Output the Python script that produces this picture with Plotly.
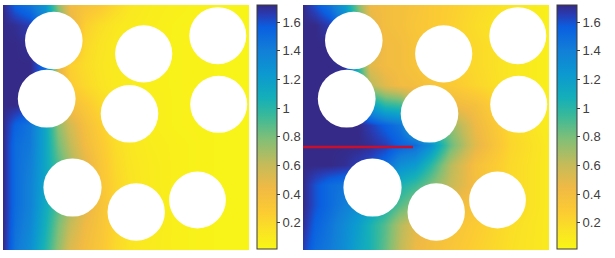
import plotly.graph_objects as go

# grid coordinates (pixel-like data units inside each square panel)
x_cols = [3, 15, 30, 45, 58, 70, 85, 100, 115, 130, 150, 175, 210, 249]
y_rows = [5, 25, 45, 65, 85, 105, 125, 145, 165, 185, 205, 225, 250]

# left panel field values
left_z = [
    [1.72, 1.55, 1.45, 1.25, 0.75, 0.42, 0.36, 0.30, 0.20, 0.12, 0.08, 0.06, 0.04, 0.03],
    [1.72, 1.70, 1.65, 1.40, 0.90, 0.50, 0.25, 0.17, 0.12, 0.09, 0.07, 0.05, 0.04, 0.03],
    [1.72, 1.72, 1.70, 1.50, 1.00, 0.45, 0.20, 0.14, 0.10, 0.08, 0.06, 0.05, 0.04, 0.03],
    [1.72, 1.72, 1.72, 1.50, 0.50, 0.25, 0.18, 0.13, 0.10, 0.08, 0.06, 0.05, 0.04, 0.03],
    [1.72, 1.72, 1.72, 1.50, 0.60, 0.28, 0.20, 0.14, 0.10, 0.08, 0.06, 0.05, 0.04, 0.03],
    [1.72, 1.72, 1.65, 1.30, 0.70, 0.40, 0.30, 0.20, 0.13, 0.09, 0.07, 0.05, 0.04, 0.03],
    [1.72, 1.55, 1.45, 1.15, 0.75, 0.55, 0.38, 0.26, 0.15, 0.10, 0.07, 0.05, 0.04, 0.03],
    [1.72, 1.50, 1.43, 1.15, 0.82, 0.62, 0.42, 0.30, 0.18, 0.12, 0.08, 0.06, 0.04, 0.03],
    [1.72, 1.50, 1.40, 1.15, 0.90, 0.70, 0.50, 0.33, 0.20, 0.13, 0.09, 0.06, 0.04, 0.03],
    [1.72, 1.50, 1.38, 1.15, 0.90, 0.70, 0.50, 0.34, 0.22, 0.14, 0.09, 0.06, 0.04, 0.03],
    [1.72, 1.50, 1.38, 1.12, 0.88, 0.70, 0.50, 0.36, 0.23, 0.15, 0.10, 0.06, 0.04, 0.03],
    [1.72, 1.48, 1.35, 1.08, 0.80, 0.60, 0.44, 0.34, 0.22, 0.14, 0.10, 0.06, 0.04, 0.03],
    [1.72, 1.45, 1.30, 1.02, 0.74, 0.52, 0.40, 0.32, 0.20, 0.13, 0.09, 0.06, 0.04, 0.03],
]

# right panel field values (with crack)
right_z = [
    [1.72, 1.60, 1.45, 1.20, 0.78, 0.45, 0.40, 0.38, 0.35, 0.30, 0.26, 0.20, 0.12, 0.06],
    [1.72, 1.72, 1.65, 1.40, 0.90, 0.50, 0.40, 0.38, 0.33, 0.30, 0.25, 0.18, 0.10, 0.06],
    [1.72, 1.72, 1.72, 1.50, 1.00, 0.55, 0.42, 0.40, 0.35, 0.30, 0.25, 0.20, 0.12, 0.06],
    [1.72, 1.72, 1.72, 1.70, 1.00, 0.50, 0.42, 0.40, 0.35, 0.30, 0.25, 0.20, 0.12, 0.06],
    [1.72, 1.72, 1.72, 1.65, 1.10, 0.65, 0.50, 0.42, 0.40, 0.35, 0.30, 0.22, 0.12, 0.06],
    [1.72, 1.72, 1.72, 1.70, 1.50, 1.20, 1.00, 0.95, 0.60, 0.45, 0.45, 0.38, 0.15, 0.07],
    [1.72, 1.72, 1.72, 1.72, 1.72, 1.65, 1.55, 1.45, 1.10, 0.85, 0.75, 0.45, 0.20, 0.08],
    [1.72, 1.72, 1.72, 1.72, 1.72, 1.70, 1.65, 1.55, 1.50, 1.30, 0.85, 0.50, 0.22, 0.10],
    [1.72, 1.72, 1.72, 1.70, 1.65, 1.60, 1.50, 1.30, 1.22, 1.00, 0.65, 0.38, 0.20, 0.10],
    [1.72, 1.60, 1.50, 1.45, 1.40, 1.30, 1.20, 1.05, 0.95, 0.80, 0.60, 0.40, 0.20, 0.10],
    [1.72, 1.60, 1.50, 1.40, 1.30, 1.20, 1.05, 0.88, 0.75, 0.60, 0.45, 0.35, 0.20, 0.10],
    [1.70, 1.55, 1.45, 1.32, 1.20, 1.05, 0.88, 0.65, 0.50, 0.42, 0.36, 0.28, 0.17, 0.10],
    [1.65, 1.50, 1.42, 1.30, 1.15, 1.05, 0.85, 0.62, 0.45, 0.40, 0.33, 0.25, 0.16, 0.10],
]

# holes (same layout in both panels)
hole_x = [53.8, 143.7, 217.8, 46.7, 129.5, 218.7, 72.5, 136.2, 197.5]
hole_y = [40.5, 53.8, 35.7, 98.7, 113.8, 104.3, 187.5, 212.0, 200.0]
hole_r = [28.8, 28.6, 28.5, 28.9, 28.8, 28.5, 29.1, 28.7, 28.4]

# crack in right panel
crack_x = [3, 113]
crack_y = [147, 147]

cbar_ticks = [0.2, 0.4, 0.6, 0.8, 1.0, 1.2, 1.4, 1.6]
cbar_labels = ["0.2", "0.4", "0.6", "0.8", "1", "1.2", "1.4", "1.6"]
zmin, zmax = 0.016, 1.72

# reversed parula-like colour scale (low = yellow, high = navy)
parula_rev = [
    [0.00, "rgb(248,246,22)"],
    [0.07, "rgb(250,228,35)"],
    [0.15, "rgb(252,204,50)"],
    [0.25, "rgb(240,186,68)"],
    [0.35, "rgb(195,187,90)"],
    [0.45, "rgb(130,191,118)"],
    [0.55, "rgb(55,185,155)"],
    [0.62, "rgb(20,175,185)"],
    [0.72, "rgb(12,152,208)"],
    [0.82, "rgb(18,125,216)"],
    [0.91, "rgb(10,95,224)"],
    [0.96, "rgb(40,60,180)"],
    [1.00, "rgb(53,42,135)"],
]

W, H = 615, 258
fig = go.Figure()
fig.add_trace(go.Heatmap(x=x_cols, y=y_rows, z=left_z, zsmooth="best",
                         coloraxis="coloraxis", xaxis="x", yaxis="y", hoverinfo="skip"))
fig.add_trace(go.Heatmap(x=x_cols, y=y_rows, z=right_z, zsmooth="best",
                         coloraxis="coloraxis2", xaxis="x2", yaxis="y2", hoverinfo="skip"))
fig.add_trace(go.Scatter(x=crack_x, y=crack_y, mode="lines",
                         line=dict(color="#c8102e", width=2.5),
                         xaxis="x2", yaxis="y2", showlegend=False, hoverinfo="skip"))

shapes = []
for xr, yr in (("x", "y"), ("x2", "y2")):
    for cx, cy, r in zip(hole_x, hole_y, hole_r):
        shapes.append(dict(type="circle", xref=xr, yref=yr,
                           x0=cx - r, x1=cx + r, y0=cy - r, y1=cy + r,
                           fillcolor="white", line=dict(width=0), layer="above"))


def cbar(xpx):
    return dict(x=xpx / W, xanchor="left", xpad=0, ypad=0,
                y=253 / H, yanchor="top", len=244 / H, lenmode="fraction",
                thickness=20, thicknessmode="pixels",
                outlinewidth=1, outlinecolor="#3a3a3a",
                ticks="outside", ticklen=3, tickcolor="#3a3a3a",
                tickvals=cbar_ticks, ticktext=cbar_labels,
                tickfont=dict(family="Liberation Sans, Arial", size=13, color="#404040"))


ax = dict(visible=False, fixedrange=True, showgrid=False, zeroline=False)
fig.update_layout(
    width=W, height=H,
    margin=dict(l=0, r=0, t=0, b=0),
    paper_bgcolor="white", plot_bgcolor="white",
    showlegend=False,
    shapes=shapes,
    xaxis=dict(domain=[3 / W, 249 / W], range=[3, 249], **ax),
    yaxis=dict(domain=[8 / H, 253 / H], range=[250, 5], **ax),
    xaxis2=dict(domain=[303 / W, 549 / W], range=[3, 249], **ax),
    yaxis2=dict(domain=[8 / H, 253 / H], range=[250, 5], **ax),
    coloraxis=dict(cmin=zmin, cmax=zmax, colorscale=parula_rev, colorbar=cbar(257)),
    coloraxis2=dict(cmin=zmin, cmax=zmax, colorscale=parula_rev, colorbar=cbar(557)),
)

fig.write_html("out.html")
